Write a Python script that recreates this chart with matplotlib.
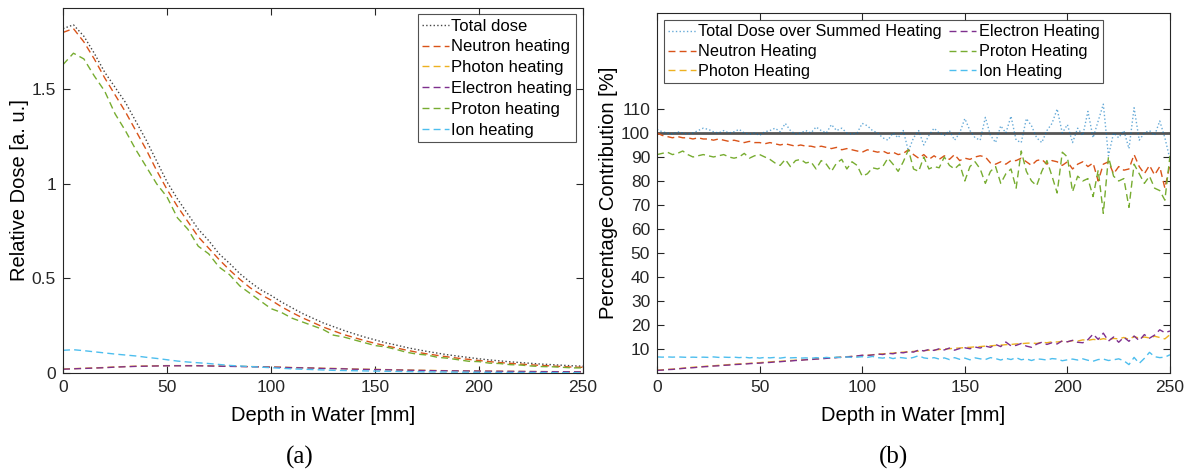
import matplotlib
matplotlib.use("Agg")
import matplotlib.pyplot as plt
import numpy as np

plt.rcParams['font.family'] = ['Liberation Sans', 'DejaVu Sans']

# ---- panel (a): relative dose, 5 mm steps ----
depth_a = np.arange(0, 251, 5)
total_dose = [1.82, 1.84, 1.78, 1.69, 1.59, 1.51, 1.43, 1.33, 1.23, 1.12, 1.01,
              0.92, 0.84, 0.76, 0.70, 0.63, 0.58, 0.525, 0.48, 0.44, 0.41,
              0.375, 0.345, 0.315, 0.29, 0.265, 0.245, 0.225, 0.207, 0.19, 0.175,
              0.16, 0.148, 0.135, 0.124, 0.114, 0.105, 0.096, 0.089, 0.082, 0.075,
              0.069, 0.064, 0.059, 0.055, 0.051, 0.047, 0.044, 0.041, 0.038, 0.036]
neutron_heat = [1.80, 1.82, 1.75, 1.66, 1.56, 1.47, 1.38, 1.28, 1.18, 1.07, 0.97,
                0.88, 0.80, 0.72, 0.66, 0.60, 0.545, 0.495, 0.45, 0.415, 0.385,
                0.35, 0.32, 0.292, 0.268, 0.243, 0.223, 0.203, 0.187, 0.171, 0.157,
                0.144, 0.133, 0.121, 0.110, 0.101, 0.093, 0.085, 0.078, 0.072, 0.066,
                0.060, 0.055, 0.051, 0.047, 0.043, 0.040, 0.037, 0.034, 0.031, 0.030]
photon_heat = [0.021, 0.023, 0.025, 0.027, 0.029, 0.032, 0.034, 0.036, 0.037, 0.038, 0.039,
               0.039, 0.039, 0.039, 0.038, 0.037, 0.036, 0.035, 0.034, 0.033, 0.032,
               0.031, 0.029, 0.028, 0.027, 0.025, 0.024, 0.023, 0.021, 0.020, 0.019,
               0.018, 0.017, 0.016, 0.015, 0.014, 0.013, 0.012, 0.0115, 0.011, 0.0105,
               0.010, 0.0095, 0.009, 0.0085, 0.008, 0.0075, 0.0072, 0.0068, 0.0066, 0.0063]
electron_heat = [0.020, 0.022, 0.024, 0.026, 0.028, 0.031, 0.033, 0.035, 0.036, 0.037, 0.038,
                 0.038, 0.038, 0.038, 0.037, 0.036, 0.035, 0.034, 0.033, 0.032, 0.031,
                 0.030, 0.028, 0.027, 0.026, 0.024, 0.023, 0.022, 0.020, 0.019, 0.018,
                 0.017, 0.016, 0.015, 0.014, 0.013, 0.012, 0.0115, 0.011, 0.0105, 0.010,
                 0.0095, 0.009, 0.0085, 0.008, 0.0075, 0.007, 0.0068, 0.0065, 0.0063, 0.006]
proton_heat = [1.63, 1.69, 1.66, 1.57, 1.49, 1.37, 1.28, 1.18, 1.09, 1.00, 0.93,
               0.82, 0.76, 0.67, 0.63, 0.56, 0.52, 0.46, 0.42, 0.38, 0.34,
               0.32, 0.29, 0.27, 0.25, 0.23, 0.20, 0.19, 0.175, 0.16, 0.145,
               0.138, 0.125, 0.11, 0.10, 0.095, 0.083, 0.078, 0.07, 0.062, 0.06,
               0.052, 0.05, 0.044, 0.042, 0.037, 0.034, 0.033, 0.030, 0.027, 0.027]
ion_heat = [0.120, 0.123, 0.118, 0.112, 0.106, 0.100, 0.095, 0.090, 0.083, 0.077, 0.070,
            0.063, 0.058, 0.054, 0.050, 0.045, 0.040, 0.037, 0.034, 0.031, 0.028,
            0.025, 0.022, 0.020, 0.018, 0.016, 0.014, 0.013, 0.012, 0.011, 0.010,
            0.0092, 0.0085, 0.0075, 0.0068, 0.006, 0.0056, 0.005, 0.0046, 0.0042, 0.004,
            0.0036, 0.0033, 0.003, 0.0028, 0.0025, 0.0022, 0.002, 0.0019, 0.0018, 0.0018]

# ---- panel (b): percentage contribution, 2.5 mm steps ----
depth_b = np.arange(0, 250.1, 2.5)
total_ratio = [101.5, 100.5, 100, 99.5, 100.5, 100, 99.5, 100, 101, 102, 101.5,
               100.5, 100, 101, 100, 100.5, 101.5, 100, 99.5, 100, 99,
               100.5, 101, 102, 100.5, 104, 101, 99.5, 100, 101, 100,
               102.5, 101, 100, 103.5, 101, 102, 100, 99.5, 100, 104,
               103, 101, 100, 98, 97, 100, 98, 101, 92.5, 98,
               101, 95, 99, 102, 100, 99, 101, 97, 100, 106,
               101, 98, 97, 106.5, 99, 96, 103, 100, 107, 97,
               96, 106, 103, 98, 96, 101, 104, 110, 100, 103.5,
               96, 102, 99, 109, 98, 105, 112, 90.5, 100, 98,
               101, 93.5, 110.5, 97, 100, 101, 99, 105, 98, 89]
neutron_ratio = [100, 99, 98.5, 98, 98.5, 98, 98, 97.5, 98, 97.5, 97.5,
                 97, 97.5, 97, 96.5, 97, 96.5, 96, 96.5, 96, 96,
                 95.5, 96, 95.5, 95, 95.5, 95, 94.5, 95, 94.5, 94.5,
                 94, 94.5, 94, 93.5, 94, 93, 93.5, 93, 92.5, 92,
                 93, 92.5, 92, 92.5, 91.5, 92, 91, 91.5, 93, 91,
                 89.5, 91, 89, 90.5, 89, 90.5, 89, 91, 88.5, 89.5,
                 89, 90, 90.5, 90, 87.5, 87, 88, 87, 88.5, 88.5,
                 89.5, 88, 86.5, 88.5, 89, 87, 88.5, 88, 86.5, 88,
                 85, 87, 88, 86, 87.5, 80, 87, 88, 83, 86,
                 84.5, 85, 91, 86, 83, 86.5, 82.5, 86, 77, 87]
photon_ratio = [1.2, 1.3, 1.5, 1.6, 1.8, 2.0, 2.2, 2.4, 2.5, 2.7, 2.9,
                3.0, 3.2, 3.3, 3.5, 3.6, 3.8, 3.9, 4.0, 4.2, 4.3,
                4.5, 4.6, 4.8, 4.9, 5.0, 5.2, 5.3, 5.4, 5.6, 5.7,
                5.9, 6.0, 6.2, 6.3, 6.5, 6.6, 6.8, 6.9, 7.1, 7.3,
                7.4, 7.6, 7.8, 8.0, 8.1, 8.3, 8.5, 8.7, 8.8, 9.0,
                9.1, 9.3, 9.5, 9.6, 9.8, 10.0, 10.1, 10.3, 10.4, 10.6,
                10.7, 10.9, 11.0, 11.2, 11.3, 11.5, 11.6, 11.8, 11.9, 12.1,
                12.2, 12.4, 12.5, 12.3, 12.8, 12.6, 13.0, 12.9, 13.2, 13.0,
                13.5, 13.3, 13.8, 13.6, 14.0, 13.8, 14.3, 13.9, 14.4, 14.2,
                14.8, 14.0, 15.2, 14.5, 15.0, 14.6, 15.3, 14.8, 14.2, 16.0]
electron_ratio = [1.1, 1.2, 1.4, 1.5, 1.7, 1.9, 2.1, 2.2, 2.4, 2.6, 2.7,
                  2.9, 3.0, 3.2, 3.3, 3.5, 3.6, 3.7, 3.9, 4.0, 4.1,
                  4.3, 4.4, 4.6, 4.7, 4.9, 5.0, 5.2, 5.3, 5.5, 5.6,
                  5.8, 5.9, 6.1, 6.2, 6.4, 6.6, 6.7, 6.9, 7.1, 7.4,
                  7.3, 7.5, 7.9, 7.7, 8.2, 8.0, 8.6, 8.4, 8.9, 8.7,
                  9.6, 9.2, 9.8, 9.4, 10.1, 9.6, 10.4, 9.5, 10.2, 10.5,
                  10.1, 10.8, 10.4, 11.2, 10.7, 11.9, 11.0, 12.9, 11.3, 11.5,
                  12.3, 11.2, 10.7, 12.0, 12.8, 11.9, 12.6, 12.1, 13.4, 13.0,
                  13.6, 12.8, 12.6, 13.9, 16.2, 14.0, 16.6, 13.3, 15.0, 12.8,
                  14.9, 13.2, 15.4, 13.5, 16.0, 14.5, 15.8, 18.0, 16.8, 17.5]
proton_ratio = [91, 91.5, 92, 91, 91.5, 92.5, 91, 90, 90.5, 91, 90.5,
                90, 90.5, 91, 90, 89.5, 90, 91.5, 89.5, 90.5, 91,
                90, 89, 87.5, 86.5, 89, 86, 88.5, 89, 87.5, 88,
                85, 88.5, 87, 84, 87.5, 89, 85, 88, 86.5, 82,
                83, 85.5, 85, 86, 89.5, 87, 84, 88, 93, 85,
                84, 90, 85, 86, 85.5, 90, 86.5, 85, 87, 80,
                86, 88, 85, 79, 84, 86, 79, 83, 85, 77,
                92.5, 84, 80, 78, 84, 88.5, 82, 75, 92, 90,
                75.5, 82, 80, 81, 73.5, 84.5, 66.5, 90, 82, 80,
                81, 69, 87, 83, 79, 82, 77, 76, 72, 90.5]
ion_ratio = [6.7, 6.6, 6.7, 6.6, 6.7, 6.6, 6.5, 6.6, 6.5, 6.6, 6.5,
             6.7, 6.5, 6.6, 6.5, 6.6, 6.4, 6.6, 6.3, 6.5, 6.2,
             6.5, 6.3, 6.5, 6.2, 6.5, 6.3, 6.4, 6.2, 6.3, 6.1,
             6.4, 6.2, 6.5, 6.3, 6.6, 6.4, 6.7, 6.5, 6.6, 6.8,
             6.5, 6.9, 6.4, 6.2, 6.6, 6.0, 6.5, 6.3, 6.0, 6.5,
             7.2, 6.3, 6.0, 6.4, 5.8, 6.3, 5.6, 6.4, 5.7, 6.2,
             5.5, 6.3, 5.9, 5.6, 6.4, 6.0, 5.4, 6.1, 5.6, 6.4,
             5.5, 5.9, 5.2, 5.9, 5.7, 5.4, 6.0, 5.8, 5.1, 5.5,
             5.8, 5.4, 5.9, 5.3, 4.9, 5.6, 5.8, 5.2, 5.5, 5.9,
             5.1, 3.5, 6.5, 4.0, 6.1, 8.6, 6.8, 6.4, 6.6, 7.6]

c_neutron = '#D95319'
c_photon = '#EDB120'
c_electron = '#7E2F8E'
c_proton = '#77AC30'
c_ion = '#4DBEEE'
c_total = '#0072BD'
dash = (5, 3)

fig = plt.figure(figsize=(11.94, 4.70), dpi=100)
ax1 = fig.add_axes([0.0528, 0.2064, 0.4355, 0.777])
ax2 = fig.add_axes([0.5503, 0.2064, 0.4296, 0.766])

ax1.plot(depth_a, total_dose, ':', color='#444444', lw=1.0, label='Total dose')
ax1.plot(depth_a, neutron_heat, '--', dashes=dash, color=c_neutron, lw=1.0, label='Neutron heating')
ax1.plot(depth_a, photon_heat, '--', dashes=dash, color=c_photon, lw=1.0, label='Photon heating')
ax1.plot(depth_a, electron_heat, '--', dashes=dash, color=c_electron, lw=1.0, label='Electron heating')
ax1.plot(depth_a, proton_heat, '--', dashes=dash, color=c_proton, lw=1.0, label='Proton heating')
ax1.plot(depth_a, ion_heat, '--', dashes=dash, color=c_ion, lw=1.0, label='Ion heating')
ax1.set_xlim(0, 250)
ax1.set_ylim(0, 1.93)
ax1.set_xticks([0, 50, 100, 150, 200, 250])
ax1.set_yticks([0, 0.5, 1, 1.5])
ax1.set_yticklabels(['0', '0.5', '1', '1.5'])
ax1.set_xlabel('Depth in Water [mm]', fontsize=14.5, labelpad=8)
ax1.set_ylabel('Relative Dose [a. u.]', fontsize=14.5, labelpad=2)
leg1 = ax1.legend(loc='upper right', fontsize=12, frameon=True, fancybox=False,
                  edgecolor='#262626', handlelength=1.6, handletextpad=0.15,
                  borderpad=0.25, labelspacing=0.35, borderaxespad=0.4)
leg1.get_frame().set_linewidth(0.8)

ax2.axhline(100, color='#555555', lw=2.0)
ax2.plot(depth_b, total_ratio, ':', color=c_total, lw=1.0, alpha=0.6, label='Total Dose over Summed Heating')
ax2.plot(depth_b, neutron_ratio, '--', dashes=dash, color=c_neutron, lw=1.0, label='Neutron Heating')
ax2.plot(depth_b, photon_ratio, '--', dashes=dash, color=c_photon, lw=1.0, label='Photon Heating')
ax2.plot(depth_b, electron_ratio, '--', dashes=dash, color=c_electron, lw=1.0, label='Electron Heating')
ax2.plot(depth_b, proton_ratio, '--', dashes=dash, color=c_proton, lw=1.0, label='Proton Heating')
ax2.plot(depth_b, ion_ratio, '--', dashes=dash, color=c_ion, lw=1.0, label='Ion Heating')
ax2.set_xlim(0, 250)
ax2.set_ylim(0, 150)
ax2.set_xticks([0, 50, 100, 150, 200, 250])
ax2.set_yticks(np.arange(10, 111, 10))
ax2.set_xlabel('Depth in Water [mm]', fontsize=14.5, labelpad=8)
ax2.set_ylabel('Percentage Contribution [%]', fontsize=14.5, labelpad=2)
leg2 = ax2.legend(loc='upper left', ncol=2, fontsize=11.7, frameon=True, fancybox=False,
                  edgecolor='#262626', handlelength=1.7, handletextpad=0.15,
                  borderpad=0.25, labelspacing=0.3, columnspacing=0.4,
                  borderaxespad=0.45)
leg2.get_frame().set_linewidth(0.8)

for ax in (ax1, ax2):
    ax.tick_params(direction='in', top=True, right=True, length=5, width=0.8,
                   labelsize=12.5, colors='#262626', pad=5)
    for s in ax.spines.values():
        s.set_color('#262626')
        s.set_linewidth(0.8)

fig.text(300 / 1194, 1 - 457 / 470, '(a)', family='Liberation Serif', fontsize=18,
         ha='center', va='center')
fig.text(893 / 1194, 1 - 457 / 470, '(b)', family='Liberation Serif', fontsize=18,
         ha='center', va='center')

fig.savefig('out.png', dpi=100)
